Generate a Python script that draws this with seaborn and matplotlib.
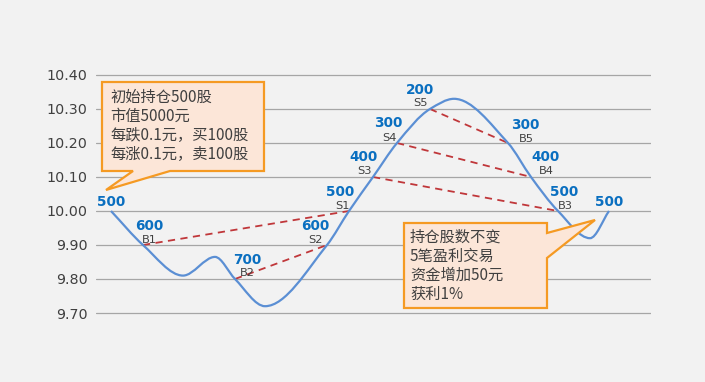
import matplotlib
matplotlib.use('Agg')
import matplotlib.pyplot as plt
import seaborn as sns
import numpy as np
from matplotlib.path import Path
from matplotlib.patches import PathPatch, Polygon

# price path: time step vs price (turning points + trade points)
t = [1.5, 4.7, 8.7, 11.9, 13.9, 16.9, 23.1, 25.3, 27.7, 30.1, 33.4, 35.8, 41.2, 43.5, 46.2, 49.4, 51.3]
price = [10.00, 9.90, 9.81, 9.865, 9.80, 9.72, 9.90, 10.00, 10.10, 10.20, 10.30, 10.33, 10.20, 10.10, 10.00, 9.92, 10.00]

# trades: index into the path, position held after trade, trade code
trade_idx = [0, 1, 4, 6, 7, 8, 9, 10, 12, 13, 14, 16]
holding = ['500', '600', '700', '600', '500', '400', '300', '200', '300', '400', '500', '500']
trade_code = ['', 'B1', 'B2', 'S2', 'S1', 'S3', 'S4', 'S5', 'B5', 'B4', 'B3', '']
# label offsets in pixels (number, code)
num_off = [(0, 9), (6, 19), (12, 19), (-12, 19), (-9, 19), (-10, 20), (-9, 20), (-10, 19),
           (17, 18), (14, 20), (6, 19), (0, 9)]
code_off = [(0, 0), (6, 5), (12, 6), (-12, 5), (-7, 5), (-8, 6), (-8, 5), (-9, 6),
            (18, 4), (15, 6), (7, 5), (0, 0)]

# buy/sell pairs (codes)
pairs = [('B1', 'S1'), ('B2', 'S2'), ('S3', 'B3'), ('S4', 'B4'), ('S5', 'B5')]

note1 = ['初始持仓500股', '市值5000元', '每跌0.1元，买100股', '每涨0.1元，卖100股']
note2 = ['持仓股数不变', '5笔盈利交易', '资金增加50元', '获利1%']

yticks = [9.70, 9.80, 9.90, 10.00, 10.10, 10.20, 10.30, 10.40]

BG = '#F2F2F2'
sns.set_theme(style='white', rc={'axes.facecolor': BG, 'figure.facecolor': BG})
plt.rcParams['font.family'] = ['DejaVu Sans', 'Noto Sans CJK SC']

W, H = 705, 382
fig = plt.figure(figsize=(W / 100, H / 100), dpi=100)
ax = fig.add_axes([96 / W, (H - 314.7) / H, 555 / W, 241.4 / H])
ax.set_xlim(0, 55.5)
ax.set_ylim(9.695, 10.405)
ax.set_yticks(yticks)
ax.set_yticklabels([f'{v:.2f}' for v in yticks], fontsize=10.3, color='#404040')
ax.set_xticks([])
ax.tick_params(axis='y', length=0, pad=6)
ax.grid(axis='y', color='#A6A6A6', lw=0.9)
sns.despine(ax=ax, left=True, bottom=True)

# smoothed line (monotone cubic bezier through the points, like an Excel smooth line)
x = np.array(t)
y = np.array(price)
h = np.diff(x)
d = np.diff(y) / h
m = np.zeros_like(y)
m[0], m[-1] = d[0], d[-1]
for k in range(1, len(y) - 1):
    if d[k - 1] * d[k] > 0:
        w1, w2 = 2 * h[k] + h[k - 1], h[k] + 2 * h[k - 1]
        m[k] = (w1 + w2) / (w1 / d[k - 1] + w2 / d[k])
verts = [(x[0], y[0])]
codes = [Path.MOVETO]
for k in range(len(h)):
    verts += [(x[k] + h[k] / 3, y[k] + m[k] * h[k] / 3),
              (x[k + 1] - h[k] / 3, y[k + 1] - m[k + 1] * h[k] / 3),
              (x[k + 1], y[k + 1])]
    codes += [Path.CURVE4] * 3
ax.add_patch(PathPatch(Path(verts, codes), fill=False, edgecolor='#5B8FD4', lw=1.6, zorder=3))

# dashed links between matching buy / sell
pos = {c: (t[i], price[i]) for c, i in zip(trade_code, trade_idx) if c}
for a, b in pairs:
    sns.lineplot(x=[pos[a][0], pos[b][0]], y=[pos[a][1], pos[b][1]], ax=ax,
                 color='#C0373A', lw=1.3, dashes=False, linestyle=(0, (4, 3)), zorder=2)

for i, n, c, no, co in zip(trade_idx, holding, trade_code, num_off, code_off):
    ax.annotate(n, (t[i], price[i]), xytext=no, textcoords='offset pixels',
                ha='center', va='center', fontsize=9.8, fontweight='bold', color='#0A6FC0')
    if c:
        ax.annotate(c, (t[i], price[i]), xytext=co, textcoords='offset pixels',
                    ha='center', va='center', fontsize=8.2, color='#404040')


def px(pts):
    return [(a / W, 1 - b / H) for a, b in pts]


box1 = [(102, 82), (264, 82), (264, 171), (170, 171), (106, 190), (133, 171), (102, 171)]
box2 = [(404, 223), (547, 223), (547, 233), (595, 220), (547, 258), (547, 308), (404, 308)]
for b in (box1, box2):
    fig.add_artist(Polygon(px(b), closed=True, transform=fig.transFigure,
                           facecolor='#FCE6D8', edgecolor='#F59A23', lw=1.6, joinstyle='miter'))

for lines, x0, y0, step in ((note1, 110, 97, 19.2), (note2, 410, 237, 19)):
    for k, s in enumerate(lines):
        fig.text(x0 / W, 1 - (y0 + k * step) / H, s, ha='left', va='center', fontsize=11,
                 color='#404040', family=['Noto Sans CJK SC', 'DejaVu Sans'], zorder=5)

fig.savefig('out.png', dpi=100, facecolor=BG)
